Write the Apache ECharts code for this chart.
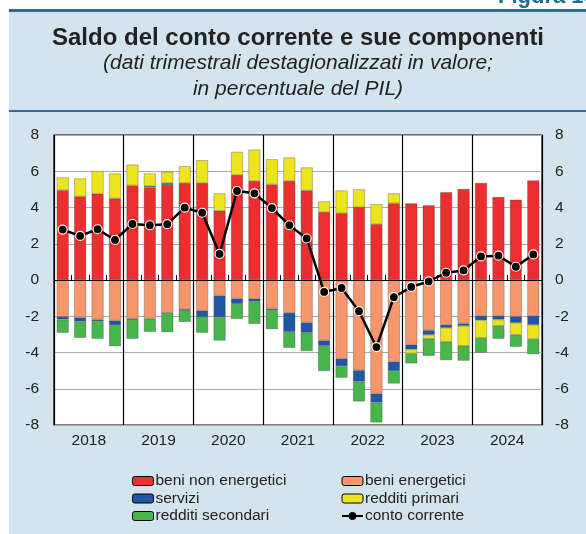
<!DOCTYPE html>
<html>
<head>
<meta charset="utf-8">
<script src="https://cdn.jsdelivr.net/npm/echarts@6/dist/echarts.min.js"></script>
<style>
  html, body { margin: 0; padding: 0; background: #fff; }
  #chart { width: 586px; height: 534px; }
</style>
</head>
<body>
<div id="chart"></div>
<script>
// quarters 2018Q1 .. 2024Q4
var years = ['2018', '2019', '2020', '2021', '2022', '2023', '2024'];
var quarters = [];
years.forEach(function (y) { for (var q = 1; q <= 4; q++) quarters.push(y + 'Q' + q); });

var beniNonEnergetici = [4.96, 4.61, 4.76, 4.50, 5.22, 5.11, 5.24, 5.35, 5.35, 3.82, 5.79, 5.46, 5.27, 5.46,
  4.94, 3.75, 3.68, 4.01, 3.08, 4.23, 4.23, 4.12, 4.85, 5.02, 5.35, 4.58, 4.43, 5.49];
var beniEnergetici = [-2.03, -2.07, -2.18, -2.24, -2.13, -2.13, -1.81, -1.61, -1.69, -0.86, -1.03, -1.03, -1.58, -1.81,
  -2.35, -3.34, -4.34, -4.98, -6.27, -4.51, -3.57, -2.77, -2.47, -2.40, -1.98, -1.98, -2.02, -1.98];
var servizi = [-0.15, -0.22, -0.09, -0.25, -0.07, 0.07, 0.11, -0.09, -0.34, -1.19, -0.29, -0.16, -0.07, -1.05,
  -0.56, -0.29, -0.41, -0.62, -0.49, -0.51, -0.26, -0.25, -0.17, -0.13, -0.24, -0.20, -0.34, -0.49];
var redditiPrimari = [0.70, 0.99, 1.26, 1.38, 1.15, 0.70, 0.62, 0.93, 1.26, 0.96, 1.28, 1.74, 1.39, 1.30,
  1.27, 0.59, 1.26, 0.99, 1.10, 0.55, -0.22, -0.22, -0.77, -1.10, -0.97, -0.35, -0.66, -0.79];
var redditiSecondari = [-0.73, -0.90, -0.97, -1.16, -1.04, -0.73, -1.07, -0.61, -0.88, -1.29, -0.82, -1.23, -1.06, -0.88,
  -1.01, -1.39, -0.64, -1.10, -1.10, -0.69, -0.55, -0.94, -1.01, -0.82, -0.82, -0.71, -0.66, -0.83];
var contoCorrente = [2.78, 2.43, 2.80, 2.21, 3.09, 3.02, 3.08, 3.99, 3.71, 1.44, 4.91, 4.78, 3.97, 3.02,
  2.29, -0.66, -0.44, -1.72, -3.70, -0.95, -0.38, -0.08, 0.40, 0.53, 1.30, 1.34, 0.73, 1.41];

var font = 'Liberation Sans, Arial, sans-serif';
var panel = '#d3e4ee';
var teal = '#2a6f8f';

function barSeries(name, data, color) {
  return {
    name: name,
    type: 'bar',
    stack: 'tot',
    data: data,
    barWidth: 12,
    itemStyle: { color: color, borderColor: 'rgba(60,60,60,0.55)', borderWidth: 0.6 }
  };
}

var myChart = echarts.init(document.getElementById('chart'), null, { renderer: 'canvas' });

var option = {
  animation: false,
  backgroundColor: '#fff',
  textStyle: { fontFamily: font },
  graphic: [
    { type: 'rect', z: -10, shape: { x: 9, y: 10, width: 577, height: 524 }, style: { fill: panel } },
    { type: 'rect', z: -9, shape: { x: 9, y: 9, width: 577, height: 3 }, style: { fill: teal } },
    { type: 'rect', z: -9, shape: { x: 9, y: 110, width: 577, height: 2 }, style: { fill: teal } },
    { type: 'text', x: 498, y: -14, style: { text: 'Figura 16', fill: '#1f6d8c', font: 'bold 22px ' + font } },
    { type: 'text', x: 298, y: 26, style: { text: 'Saldo del conto corrente e sue componenti', align: 'center', fill: '#222', font: 'bold 24px ' + font } },
    { type: 'text', x: 298, y: 53, style: { text: '(dati trimestrali destagionalizzati in valore;', align: 'center', fill: '#222', font: 'italic 21px ' + font } },
    { type: 'text', x: 298, y: 79, style: { text: 'in percentuale del PIL)', align: 'center', fill: '#222', font: 'italic 21px ' + font } }
  ],
  grid: {
    left: 54, right: 44, top: 135, bottom: 109,
    show: true, backgroundColor: '#fff', borderColor: '#000', borderWidth: 1.2, z: 0
  },
  legend: [
    {
      orient: 'vertical', left: 127, top: 468, itemWidth: 21, itemHeight: 9, itemGap: 1.5,
      data: ['beni non energetici', 'servizi', 'redditi secondari'],
      itemStyle: { borderColor: '#000', borderWidth: 1 },
      textStyle: { fontSize: 15.5, color: '#222', padding: [0, 0, 0, -3] }
    },
    {
      orient: 'vertical', left: 336, top: 468, itemWidth: 21, itemHeight: 9, itemGap: 1.5,
      data: ['beni energetici', 'redditi primari', 'conto corrente'],
      itemStyle: { borderColor: '#000', borderWidth: 1 },
      textStyle: { fontSize: 15.5, color: '#222', padding: [0, 0, 0, -3] }
    }
  ],
  xAxis: [
    {
      type: 'category', data: quarters, position: 'bottom',
      axisLine: { show: false },
      axisTick: { show: true, inside: true, length: 5, interval: 0, lineStyle: { color: '#000' } },
      axisLabel: { show: false },
      splitLine: { show: false }
    },
    {
      type: 'category', data: years, position: 'bottom', boundaryGap: true,
      axisLine: { show: false },
      axisTick: { show: false },
      axisLabel: { show: true, fontSize: 15.5, color: '#222', margin: 8 },
      splitLine: { show: true, interval: 0, lineStyle: { color: '#000', width: 1.2 } }
    }
  ],
  yAxis: [
    {
      type: 'value', min: -8, max: 8, interval: 2, position: 'left',
      axisLine: { show: false }, axisTick: { show: false },
      axisLabel: { fontSize: 15.5, color: '#222', margin: 15 },
      splitLine: { show: true, lineStyle: { color: '#aaa', width: 1 } }
    },
    {
      type: 'value', min: -8, max: 8, interval: 2, position: 'right',
      axisLine: { show: false }, axisTick: { show: false },
      axisLabel: { fontSize: 15.5, color: '#222', margin: 13, align: 'left' },
      splitLine: { show: false }
    }
  ],
  series: [
    barSeries('beni non energetici', beniNonEnergetici, '#ec2e2f'),
    barSeries('beni energetici', beniEnergetici, '#f5976b'),
    barSeries('servizi', servizi, '#1f56a6'),
    barSeries('redditi primari', redditiPrimari, '#ece41d'),
    barSeries('redditi secondari', redditiSecondari, '#47b64a'),
    {
      name: 'conto corrente',
      type: 'line',
      data: contoCorrente,
      z: 10,
      symbol: 'circle',
      symbolSize: 9,
      lineStyle: { color: '#000', width: 2.5 },
      itemStyle: { color: '#000', borderColor: '#fff', borderWidth: 1.2 },
      markLine: {
        silent: true, symbol: 'none', label: { show: false },
        lineStyle: { color: '#000', width: 1.2, type: 'solid' },
        data: [{ yAxis: 0 }]
      }
    }
  ]
};

myChart.setOption(option);
</script>
</body>
</html>
